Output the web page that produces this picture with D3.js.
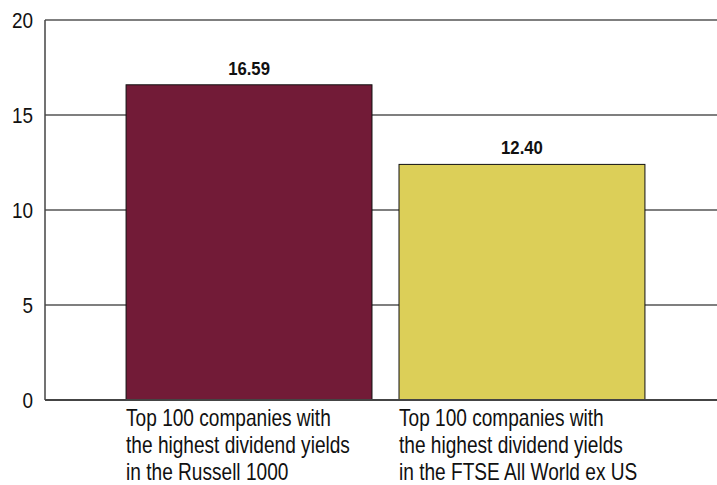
<!DOCTYPE html>
<html>
<head>
<meta charset="utf-8">
<script src="https://cdn.jsdelivr.net/npm/d3@7"></script>
<style>
  body { margin: 0; background: #fff; }
  text { font-family: "Liberation Sans Narrow", "Arial Narrow", "Liberation Sans", sans-serif; }
</style>
</head>
<body>
<script>
// chart data
var categories = ["Russell 1000", "FTSE All World ex US"];
var values = [16.59, 12.40];
var labels = [
  ["Top 100 companies with", "the highest dividend yields", "in the Russell 1000"],
  ["Top 100 companies with", "the highest dividend yields", "in the FTSE All World ex US"]
];
var colors = ["#721b37", "#dccf58"];
var yTicks = [0, 5, 10, 15, 20];

var width = 717, height = 485;
var svg = d3.select("body").append("svg")
    .attr("width", width)
    .attr("height", height);

var y = d3.scaleLinear().domain([0, 20]).range([400, 20]);
var x = d3.scaleBand().domain(categories).range([45, 726])
    .paddingInner(0.099).paddingOuter(0.297);

// squeeze text horizontally, the original uses a condensed face
function place(px, py, sx) {
  return "translate(" + px + "," + py + ") scale(" + sx + ",1)";
}

// gridlines
svg.selectAll("line.grid")
    .data(yTicks.filter(function(d) { return d > 0; }))
    .enter()
    .append("line")
    .attr("class", "grid")
    .attr("x1", 45).attr("x2", width)
    .attr("y1", function(d) { return y(d); })
    .attr("y2", function(d) { return y(d); })
    .attr("stroke", "#555")
    .attr("stroke-width", 1.3);

// tick labels
svg.selectAll("text.tick")
    .data(yTicks)
    .enter()
    .append("text")
    .attr("class", "tick")
    .attr("transform", function(d) { return place(33, y(d) + 8, 0.86); })
    .attr("text-anchor", "end")
    .attr("font-size", 22)
    .attr("fill", "#111")
    .text(function(d) { return d; });

// bars
svg.selectAll("rect")
    .data(values)
    .enter()
    .append("rect")
    .attr("x", function(d, i) { return x(categories[i]); })
    .attr("y", function(d) { return y(d); })
    .attr("width", x.bandwidth())
    .attr("height", function(d) { return y(0) - y(d); })
    .attr("fill", function(d, i) { return colors[i]; })
    .attr("stroke", "#111")
    .attr("stroke-width", 1);

// value labels
svg.selectAll("text.value")
    .data(values)
    .enter()
    .append("text")
    .attr("class", "value")
    .attr("transform", function(d, i) {
      return place(x(categories[i]) + x.bandwidth() / 2, y(d) - 10, 0.88);
    })
    .attr("text-anchor", "middle")
    .attr("font-size", 19)
    .attr("font-weight", "bold")
    .attr("fill", "#111")
    .text(function(d) { return d.toFixed(2); });

// category labels
labels.forEach(function(lines, i) {
  svg.append("g").selectAll("text")
      .data(lines)
      .enter()
      .append("text")
      .attr("transform", function(d, j) { return place(x(categories[i]), 426 + j * 27, 0.83); })
      .attr("font-size", 23)
      .attr("fill", "#111")
      .text(function(d) { return d; });
});

// axes
svg.append("line")
    .attr("x1", 45).attr("x2", 45)
    .attr("y1", y(20)).attr("y2", y(0))
    .attr("stroke", "#444").attr("stroke-width", 1.5);
svg.append("line")
    .attr("x1", 45).attr("x2", width)
    .attr("y1", y(0)).attr("y2", y(0))
    .attr("stroke", "#444").attr("stroke-width", 2);
</script>
</body>
</html>
